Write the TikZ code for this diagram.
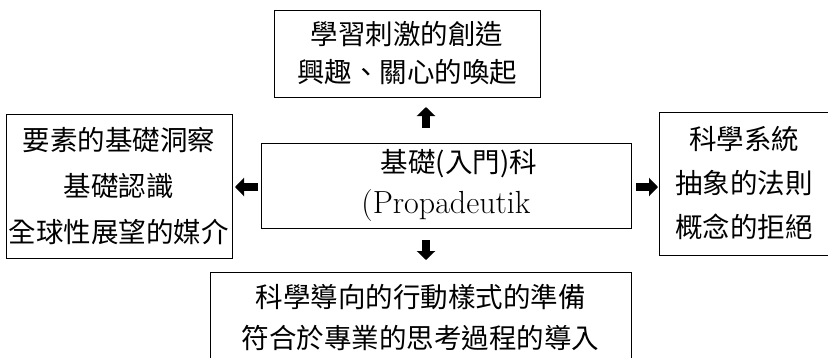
\documentclass[tikz,border=0pt]{standalone}
\usepackage{fontspec}
\newfontfamily\cjk{Noto Sans CJK TC}
\usetikzlibrary{arrows.meta,positioning}
\tikzset{block/.style={draw, rectangle, align=center, inner sep=0pt,
		font=\cjk\fontsize{27.5}{46}\selectfont},
	fatarrow/.style={draw, line width=8pt, -{Triangle[length=9pt,width=18pt]}}}

\begin{document}
\begin{tikzpicture}[x=1pt,y=-1pt]
		\clip (0,0) rectangle (828,357);
		\node [block, minimum width=266, minimum height=87] (stimulus) at (407,53.5)
			{學習刺激的創造\\[-8pt]興趣、關心的喚起};
		\node [block, minimum width=370, minimum height=85] (propaedeutic) at (446,185.5)
			{\hspace*{26pt}基礎(入門)科\\[-5pt]{\rmfamily\fontsize{32}{32}\selectfont (Propadeutik}};
		\node [block, minimum width=226, minimum height=144] (insight) at (119,186)
			{要素的基礎洞察\\基礎認識\\全球性展望的媒介};
		\node [block, minimum width=170, minimum height=143] (system) at (744,183.5)
			{科學系統\\[-2pt]抽象的法則\\[-2pt]概念的拒絕};
		\node [block, minimum width=421, minimum height=91, anchor=north] (conduct) at (420.5,272)
			{科學導向的行動樣式的準備\\[-5pt]符合於專業的思考過程的導入};
		
		\coordinate (upfrom) at (426,128);
		\coordinate (upto) at (426,107);
		\coordinate (leftfrom) at (258,187);
		\coordinate (leftto) at (235,187);
		\coordinate (rightfrom) at (636,187);
		\coordinate (rightto) at (658,187);
		\coordinate (downfrom) at (426,240);
		\coordinate (downto) at (426,260);
		
		\draw [fatarrow] (upfrom)--(upto);
		\draw [fatarrow] (leftfrom)--(leftto);
		\draw [fatarrow] (rightfrom)--(rightto);
		\draw [fatarrow] (downfrom)--(downto);
	\end{tikzpicture}
\end{document}
